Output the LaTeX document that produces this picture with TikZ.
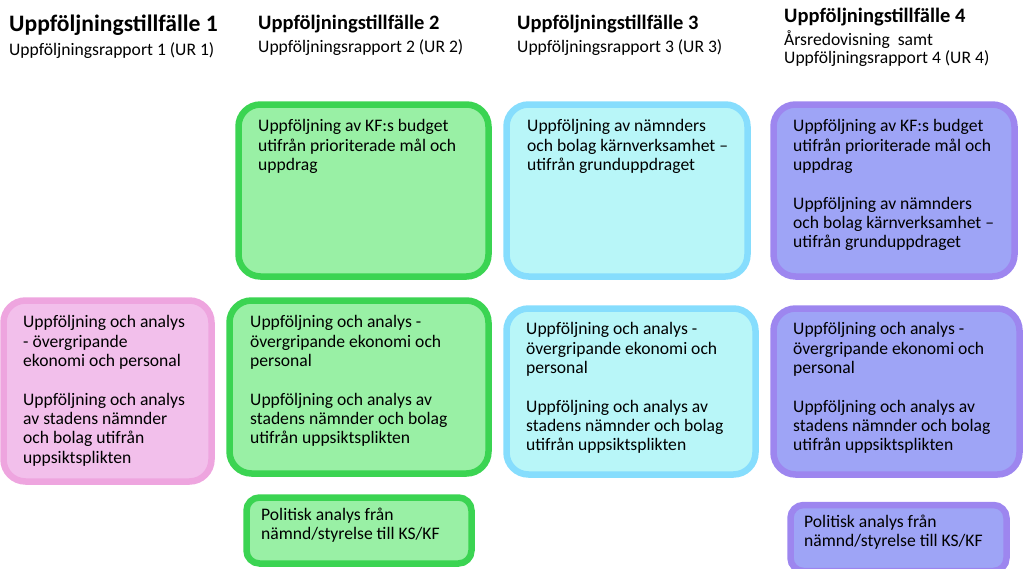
\documentclass[tikz,border=0pt]{standalone}
\usepackage{fontspec}
\setmainfont{Carlito}
\definecolor{gfill}{HTML}{99F0A5}
\definecolor{gline}{HTML}{3BD452}
\definecolor{cfill}{HTML}{B8F6F8}
\definecolor{cline}{HTML}{86DDFD}
\definecolor{pfill}{HTML}{9EA4F6}
\definecolor{pline}{HTML}{9D86EF}
\definecolor{kfill}{HTML}{F2BFEB}
\definecolor{kline}{HTML}{EEA5DF}
\tikzset{
  card/.style={rectangle, rounded corners=22pt, line width=6.5pt, inner sep=0pt},
  smallcard/.style={card, rounded corners=13pt},
  gcard/.style={fill=gfill, draw=gline},
  ccard/.style={fill=cfill, draw=cline},
  pcard/.style={fill=pfill, draw=pline},
  kcard/.style={fill=kfill, draw=kline},
  body/.style={anchor=north west, inner sep=0pt, align=left, font=\fontsize{17.6}{19.3}\selectfont},
  head/.style={anchor=base west, inner sep=0pt, font=\bfseries\fontsize{20.5}{24}\selectfont},
  sub/.style={anchor=base west, inner sep=0pt, align=left, font=\fontsize{17.6}{18.5}\selectfont},
}
\begin{document}
\begin{tikzpicture}[x=1pt, y=-1pt]
\useasboundingbox (0,0) rectangle (1026,568);
% headings
\node[head, font=\bfseries\fontsize{23.6}{28}\selectfont] (h1) at (9,31) {Uppföljningstillfälle 1};
\node[sub] (s1) at (9,55) {Uppföljningsrapport 1 (UR 1)};
\node[head] (h2) at (258,29) {Uppföljningstillfälle 2};
\node[sub] (s2) at (258,52) {Uppföljningsrapport 2 (UR 2)};
\node[head] (h3) at (517,29) {Uppföljningstillfälle 3};
\node[sub] (s3) at (517,52) {Uppföljningsrapport 3 (UR 3)};
\node[head] (h4) at (784,22) {Uppföljningstillfälle 4};
\node[sub] (s4a) at (784,45) {Årsredovisning\ \ samt};
\node[sub] (s4b) at (784,63) {Uppföljningsrapport 4 (UR 4)};
% top row
\node[card, gcard, minimum width=250pt, minimum height=172pt] (g1) at (363.5,190.5) {};
\node[card, ccard, minimum width=241pt, minimum height=172pt] (c1) at (627,190.5) {};
\node[card, pcard, minimum width=241pt, minimum height=172pt] (p1) at (894,190.5) {};
\node[body] (tg1) at (258,119.5) {Uppföljning av KF:s budget\\utifrån prioriterade mål och\\uppdrag};
\node[body] (tc1) at (527,119.5) {Uppföljning av nämnders\\och bolag kärnverksamhet –\\utifrån grunduppdraget};
\node[body] (tp1) at (793,119.5) {Uppföljning av KF:s budget\\utifrån prioriterade mål och\\uppdrag\\[19.3pt]Uppföljning av nämnders\\och bolag kärnverksamhet –\\utifrån grunduppdraget};
% middle row
\node[card, kcard, minimum width=208pt, minimum height=181pt] (k2) at (107.5,391) {};
\node[card, gcard, minimum width=259pt, minimum height=173pt] (g2) at (359,387) {};
\node[card, ccard, minimum width=249pt, minimum height=166pt] (c2) at (631,391.5) {};
\node[card, pcard, minimum width=246pt, minimum height=166pt] (p2) at (896.5,391.5) {};
\node[body] (tk2) at (23,315.5) {Uppföljning och analys\\- övergripande\\ekonomi och personal\\[19.3pt]Uppföljning och analys\\av stadens nämnder\\och bolag utifrån\\uppsiktsplikten};
\node[body] (tg2) at (250,315.5) {Uppföljning och analys -\\övergripande ekonomi och\\personal\\[19.3pt]Uppföljning och analys av\\stadens nämnder och bolag\\utifrån uppsiktsplikten};
\node[body] (tc2) at (526,322.5) {Uppföljning och analys -\\övergripande ekonomi och\\personal\\[19.3pt]Uppföljning och analys av\\stadens nämnder och bolag\\utifrån uppsiktsplikten};
\node[body] (tp2) at (793,322.5) {Uppföljning och analys -\\övergripande ekonomi och\\personal\\[19.3pt]Uppföljning och analys av\\stadens nämnder och bolag\\utifrån uppsiktsplikten};
% bottom row
\node[smallcard, gcard, minimum width=225pt, minimum height=66pt] (g3) at (359,530.5) {};
\node[smallcard, pcard, minimum width=216pt, minimum height=66pt] (p3) at (898.5,538) {};
\node[body] (tg3) at (261,507.5) {Politisk analys från\\nämnd/styrelse till KS/KF};
\node[body] (tp3) at (804,514.5) {Politisk analys från\\nämnd/styrelse till KS/KF};
\end{tikzpicture}
\end{document}
